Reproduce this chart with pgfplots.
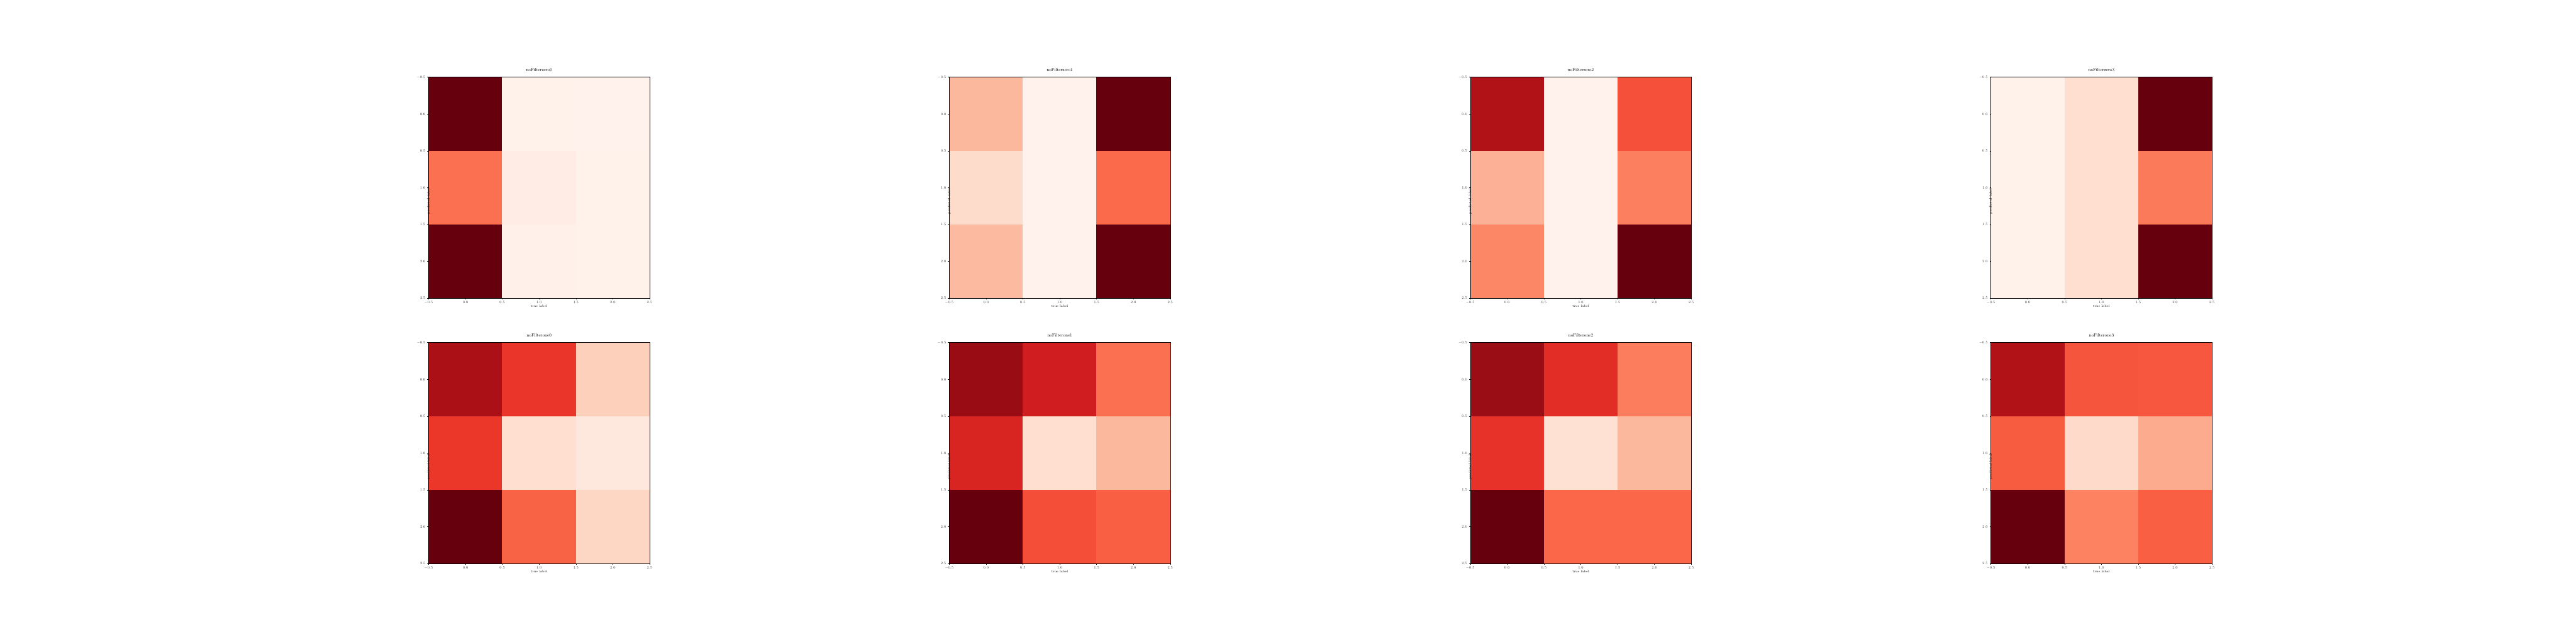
\documentclass[border=0pt]{standalone}
\usepackage{pgfplots}
\pgfplotsset{compat=1.18}
\pgfplotsset{
  colormap={reds}{rgb255=(255,245,240) rgb255=(254,224,210) rgb255=(252,187,161) rgb255=(252,146,114) rgb255=(251,106,74) rgb255=(239,59,44) rgb255=(203,24,29) rgb255=(165,15,21) rgb255=(103,0,13)},
  cmstyle/.style={
    scale only axis, width=426.96pt, height=426.96pt,
    anchor=south west,
    axis on top,
    colormap name=reds,
    point meta min=0, point meta max=1,
    xmin=-0.5, xmax=2.5, ymin=-0.5, ymax=2.5,
    y dir=reverse,
    enlargelimits=false,
    xtick={-0.5,0,0.5,1,1.5,2,2.5},
    ytick={-0.5,0,0.5,1,1.5,2,2.5},
    tick pos=left,
    tick align=outside,
    major tick length=2.5pt,
    every tick/.style={black, line width=0.5pt},
    axis line style={line width=0.6pt},
    xticklabel style={/pgf/number format/fixed, /pgf/number format/fixed zerofill, /pgf/number format/precision=1},
    yticklabel style={/pgf/number format/fixed, /pgf/number format/fixed zerofill, /pgf/number format/precision=1},
    ticklabel style={font=\fontsize{7}{8}\selectfont, text=black!80},
    xlabel={true label}, ylabel={predicted label},
    xlabel style={font=\fontsize{6.2}{7}\selectfont, at={(axis description cs:0.5,0)}, anchor=base, yshift=-17.5pt},
    ylabel style={font=\fontsize{6.2}{7}\selectfont, at={(axis description cs:0,0.5)}, anchor=center, xshift=-26pt},
    title style={font=\fontsize{8.5}{10}\selectfont, at={(axis description cs:0.5,1)}, anchor=base, yshift=5pt},
  },
}
\begin{document}
\begin{tikzpicture}
\path[use as bounding box] (0,0) rectangle (4976.64pt,1244.16pt);
% ---------- top row ----------
\begin{axis}[cmstyle, at={(828pt,668.16pt)}, title={noFilterzero0}]
\addplot[matrix plot*, mesh/cols=3, point meta=explicit] table[meta=c] {
x y c
0 0 1.0
1 0 0.02
2 0 0.015
0 1 0.48
1 1 0.045
2 1 0.02
0 2 1.0
1 2 0.025
2 2 0.02
};
\end{axis}
\begin{axis}[cmstyle, at={(1833.84pt,668.16pt)}, title={noFilterzero1}]
\addplot[matrix plot*, mesh/cols=3, point meta=explicit] table[meta=c] {
x y c
0 0 0.26
1 0 0.015
2 0 1.0
0 1 0.14
1 1 0.015
2 1 0.5
0 2 0.25
1 2 0.015
2 2 1.0
};
\end{axis}
\begin{axis}[cmstyle, at={(2840.4pt,668.16pt)}, title={noFilterzero2}]
\addplot[matrix plot*, mesh/cols=3, point meta=explicit] table[meta=c] {
x y c
0 0 0.835
1 0 0.015
2 0 0.566
0 1 0.28
1 1 0.015
2 1 0.43
0 2 0.41
1 2 0.015
2 2 1.0
};
\end{axis}
\begin{axis}[cmstyle, at={(3846.24pt,668.16pt)}, title={noFilterzero3}]
\addplot[matrix plot*, mesh/cols=3, point meta=explicit] table[meta=c] {
x y c
0 0 0.02
1 0 0.13
2 0 1.0
0 1 0.02
1 1 0.13
2 1 0.45
0 2 0.02
1 2 0.13
2 2 1.0
};
\end{axis}
% ---------- bottom row ----------
\begin{axis}[cmstyle, at={(828pt,155.52pt)}, title={noFilterone0}]
\addplot[matrix plot*, mesh/cols=3, point meta=explicit] table[meta=c] {
x y c
0 0 0.855
1 0 0.645
2 0 0.18
0 1 0.64
1 1 0.13
2 1 0.077
0 2 1.0
1 2 0.52
2 2 0.16
};
\end{axis}
\begin{axis}[cmstyle, at={(1833.84pt,155.52pt)}, title={noFilterone1}]
\addplot[matrix plot*, mesh/cols=3, point meta=explicit] table[meta=c] {
x y c
0 0 0.90
1 0 0.733
2 0 0.48
0 1 0.705
1 1 0.13
2 1 0.26
0 2 1.0
1 2 0.574
2 2 0.53
};
\end{axis}
\begin{axis}[cmstyle, at={(2840.4pt,155.52pt)}, title={noFilterone2}]
\addplot[matrix plot*, mesh/cols=3, point meta=explicit] table[meta=c] {
x y c
0 0 0.895
1 0 0.674
2 0 0.44
0 1 0.656
1 1 0.12
2 1 0.26
0 2 1.0
1 2 0.505
2 2 0.505
};
\end{axis}
\begin{axis}[cmstyle, at={(3846.24pt,155.52pt)}, title={noFilterone3}]
\addplot[matrix plot*, mesh/cols=3, point meta=explicit] table[meta=c] {
x y c
0 0 0.84
1 0 0.555
2 0 0.55
0 1 0.54
1 1 0.145
2 1 0.30
0 2 1.0
1 2 0.425
2 2 0.53
};
\end{axis}
\end{tikzpicture}
\end{document}
